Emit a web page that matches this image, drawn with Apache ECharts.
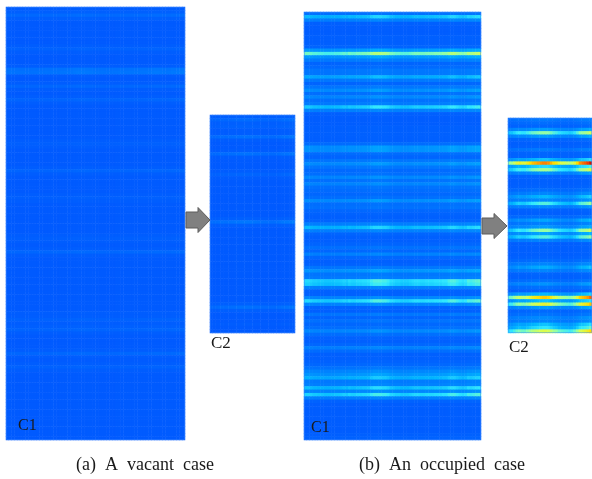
<!DOCTYPE html>
<html><head><meta charset="utf-8">
<style>html,body{margin:0;padding:0;background:#fff}#c{width:592px;height:479px}</style>
<script src="https://cdn.jsdelivr.net/npm/echarts@6/dist/echarts.min.js"></script>
</head><body><div id="c"></div>
<script>
// Row intensities (0-100), top row first
const vacantC1Rows = [
 2,3,7,3,1,1,1,1,1,1, 1,2,4,2,1,1,1,2,10,11, 2,1,2,6,2,1,2,5,2,1,
 1,1,1,1,1,1,1,1,1,2, 3,2,1,1,1,1,1,2,5,2, 1,1,1,1,1,2,3,2,1,1,
 1,1,1,1,1,1,1,2,3,2, 1,2,6,2,1,1,1,1,1,1, 1,1,1,1,1,1,1,1,1,1,
 2,2,4,2,3,5,2,1,1,1, 1,2,6,2,1,2,4,2,1,1, 1,1,1,1,1,1,1,1,1,1,
 1,1,1,1,1,1,1,1];
const occupiedC1Rows = [
 10,32,16,3,2,2,2,3,3,3, 5,24,48,24,14,5,7,12,12,28, 13,5,12,21,9,19,10,14,35,16,
 3,2,2,2,3,3,3,3,3,8, 22,22,8,5,12,21,12,7,9,19, 10,18,10,8,6,9,21,9,10,6,
 4,3,5,16,32,16,5,3,3,5, 10,6,16,6,3,4,12,23,12,14, 38,36,16,4,4,18,38,18,4,3,
 12,5,10,6,9,19,9,4,3,6, 16,8,3,3,4,6,11,18,23,30, 14,16,33,18,37,16,4,2,2,2,
 2,2,2,2,2,2,3,4];
const vacantC2Rows = [
 3,7,3,4,2,2,9,2,1,1, 2,9,2,1,1,1,2,5,2,1, 1,1,1,1,1,1,1,1,1,1,
 3,11,3,1,1,1,1,1,1,1, 1,1,1,1,1,1,1,1,1,1, 1,1,1,1,1,3,9,3,1,1,
 1,2,1,1];
const occupiedC2Rows = [
 12,8,5,22,46,22,6,3,4,12, 5,5,30,74,34,48,20,4,3,3, 4,8,16,28,18,40,18,4,3,8,
 24,14,22,46,24,40,16,3,3,3, 3,4,8,16,26,16,5,4,9,20, 9,4,28,66,30,58,22,6,10,18,
 16,30,36,55];
// Column weights across each panel
const c1Columns = [
 .98,.98,.95,.92,.92,.9,.9,.88,.88,.88, .88,.9,.9,.92,.95,.92,.98,.95,.95,.98,
 .98,1,1,1.02,1.1,1.15,1.15,1.15,1.12,1.12, 1.08,1,.98,.95,.95,.92,.92,.92,.95,.98,
 1,1,.98,.98,1,1,1,1.02,1.02,1.02, 1.05,1.05,1.12,1.15,1.15,1.1,1.05,1.02,1.05,1.15,
 1.12,1.15,1.18,1.2];
const c2Columns = [
 .7,.72,.78,.85,.88,.85,.85,.9,.95,1,1.02,1.05,1.08,1.1,1.1,1.08,1.02,.95,.92,.85,
 .82,.8,.78,.75,.78,.85,.95,1.08,1.12,1.15,1.2,1.28];
// Colour stops for values 0,10,...,100
const jetStops = ['#0058ff','#0072ff','#008cff','#00b4ff','#30e8ff','#90ffa8','#d8ff50','#ffe000','#ff9000','#f03000','#a00000'];
const labels = ['C1','C2','C1','C2'];
const captions = ['(a)  A  vacant  case','(b)  An  occupied  case'];

function cells(rows, cols){
  const out=[];
  rows.forEach((rv,r)=>cols.forEach((cw,c)=>out.push([c,r,Math.min(100,rv*cw)])));
  return out;
}
const panels=[
 {rows:vacantC1Rows,cols:c1Columns,left:6,top:7,width:179,height:433},
 {rows:vacantC2Rows,cols:c2Columns,left:210,top:115,width:85,height:218},
 {rows:occupiedC1Rows,cols:c1Columns,left:304,top:12,width:177,height:428},
 {rows:occupiedC2Rows,cols:c2Columns,left:508,top:118,width:84,height:215}
];
function arrow(x0,x1,x2,cy){
  return {type:'polygon',z:20,shape:{points:[[x0,cy-8],[x1,cy-8],[x1,cy-12.5],[x2,cy],[x1,cy+12.5],[x1,cy+8],[x0,cy+8]]},
    style:{fill:'#808080',stroke:'#5c5c5c',lineWidth:1}};
}
function txt(x,y,s,size,align){
  return {type:'text',z:30,x:x,y:y,style:{text:s,fontFamily:'"Liberation Serif",serif',fontSize:size,fill:'#1a1a1a',align:align||'left',verticalAlign:'middle'}};
}
function rim(p){
  return {type:'rect',z:10,shape:{x:p.left+.5,y:p.top+.5,width:p.width-1,height:p.height-1},style:{fill:'none',stroke:'#3a86ff',lineWidth:1,opacity:.45}};
}
const chart=echarts.init(document.getElementById('c'),null,{renderer:'canvas'});
chart.setOption({
  animation:false,backgroundColor:'#fff',
  grid:panels.map(p=>({left:p.left,top:p.top,width:p.width,height:p.height,show:false})),
  xAxis:panels.map((p,i)=>({type:'category',gridIndex:i,show:false,data:p.cols.map((_,k)=>k)})),
  yAxis:panels.map((p,i)=>({type:'category',gridIndex:i,show:false,inverse:true,data:p.rows.map((_,k)=>k)})),
  visualMap:{show:false,type:'continuous',min:0,max:100,seriesIndex:[0,1,2,3],inRange:{color:jetStops}},
  series:panels.map((p,i)=>({type:'heatmap',xAxisIndex:i,yAxisIndex:i,data:cells(p.rows,p.cols),progressive:0,silent:true,itemStyle:{borderWidth:0}})),
  graphic:panels.map(rim).concat([
    arrow(186,198,210,220),arrow(482,494,507,226),
    txt(18,426,labels[0],16),txt(211,344,labels[1],17),txt(311,428,labels[2],16),txt(509,348,labels[3],17),
    txt(145,465,captions[0],18,'center'),txt(442,465,captions[1],18,'center')
  ])
});
</script></body></html>
